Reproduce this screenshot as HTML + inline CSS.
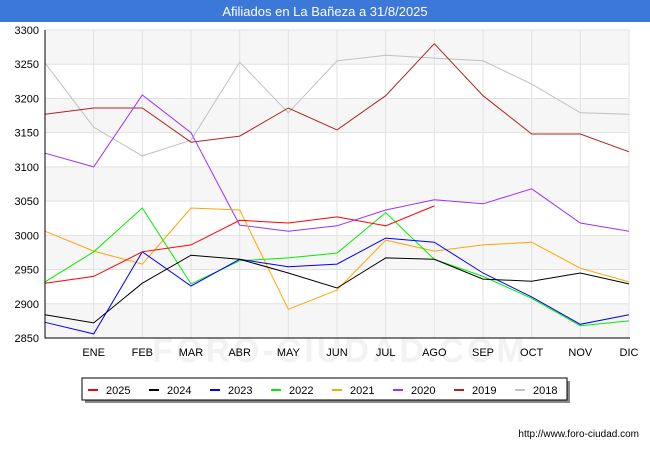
<!DOCTYPE html>
<html><head><meta charset="utf-8"><style>
body{margin:0;background:#fff;font-family:"Liberation Sans",sans-serif}
</style></head><body>
<svg id="c" width="650" height="450" xmlns="http://www.w3.org/2000/svg" font-family="Liberation Sans, sans-serif">
<rect x="0" y="0" width="650" height="22" fill="#3b78d8"/>
<text x="325" y="16" text-anchor="middle" fill="#fff" font-size="13">Afiliados en La Bañeza a 31/8/2025</text>
<g id="grid"></g><g id="series"></g><g id="axes"></g>
<rect x="85" y="381" width="485" height="22" fill="#888"/>
<rect x="82" y="378" width="485" height="22" fill="#fff" stroke="#000" stroke-width="1"/>
<g id="legend"></g>
<text x="639" y="437" text-anchor="end" font-size="10" fill="#000">http://www.foro-ciudad.com</text>
</svg>
<script>
const months=["","ENE","FEB","MAR","ABR","MAY","JUN","JUL","AGO","SEP","OCT","NOV","DIC"];
const yTicks=[2850,2900,2950,3000,3050,3100,3150,3200,3250,3300];
const seriesNames=["2025","2024","2023","2022","2021","2020","2019","2018"];
const seriesColors=["#ff0000","#000000","#0000ff","#00ee00","#ffa500","#9b30ff","#b22222","#c0c0c0"];
const s2025=[2930,2940,2976,2986,3022,3018,3027,3014,3043];
const s2024=[2884,2872,2930,2971,2965,2945,2923,2967,2965,2936,2933,2945,2929];
const s2023=[2873,2856,2976,2926,2965,2954,2958,2996,2990,2945,2910,2870,2884];
const s2022=[2932,2976,3040,2929,2963,2967,2974,3033,2965,2940,2908,2868,2875];
const s2021=[3006,2977,2958,3040,3037,2892,2920,2993,2977,2986,2990,2952,2932];
const s2020=[3120,3100,3205,3150,3015,3006,3014,3037,3052,3046,3068,3018,3006];
const s2019=[3177,3186,3186,3136,3145,3186,3154,3204,3280,3204,3148,3148,3122];
const s2018=[3252,3158,3116,3139,3253,3179,3255,3263,3259,3255,3221,3179,3177];
const allSeries=[s2025,s2024,s2023,s2022,s2021,s2020,s2019,s2018];
const NS="http://www.w3.org/2000/svg";
const L=45,R=629,T=30,B=338,ymin=2850,ymax=3300;
const X=i=>L+i*(R-L)/12;
const Y=v=>B-(v-ymin)/(ymax-ymin)*(B-T);
function mk(p,t,a){const e=document.createElementNS(NS,t);for(const k in a)e.setAttribute(k,a[k]);p.appendChild(e);return e;}
const grid=document.getElementById('grid'),axes=document.getElementById('axes'),ser=document.getElementById('series'),leg=document.getElementById('legend');
for(let i=0;i<yTicks.length-1;i++){
  if((yTicks.length-2-i)%2===0){
    const r=mk(grid,'rect',{x:L,y:Y(yTicks[i+1]),width:R-L,height:Y(yTicks[i])-Y(yTicks[i+1]),fill:'#f6f6f6'});
    
    
  }
}
yTicks.forEach(v=>{
  const l=mk(grid,'line',{x1:L,x2:R,y1:Y(v),y2:Y(v),stroke:'#e2e2e2','stroke-width':1});
  
  
  const t=mk(axes,'text',{x:L-6,y:Y(v)+4,'text-anchor':'end','font-size':11,fill:'#000'});
  t.textContent=v;
  
  
});
months.forEach((m,i)=>{
  if(i>0){const g=mk(grid,'line',{x1:X(i),x2:X(i),y1:T,y2:B,stroke:'#e2e2e2','stroke-width':1});
  
  }
  const t=mk(axes,'text',{x:X(i),y:B+18,'text-anchor':'middle','font-size':11,fill:'#000'});
  t.textContent=m;
  
  
});
const wm=mk(axes,'text',{x:340,y:362,'text-anchor':'middle','font-size':34,'font-weight':'bold',fill:'#000','fill-opacity':0.05,'letter-spacing':3});
wm.textContent='FORO-CIUDAD.COM';


const ax=mk(axes,'path',{d:`M${L},${T}V${B}H${R+1}`,fill:'none',stroke:'#000','stroke-width':1});


for(let s=allSeries.length-1;s>=0;s--){
  const d=allSeries[s].map((v,i)=>(i?'L':'M')+X(i).toFixed(1)+','+Y(v).toFixed(1)).join('');
  const p=mk(ser,'path',{d:d,fill:'none',stroke:seriesColors[s],'stroke-width':1});
  
  
}
seriesNames.forEach((n,i)=>{
  const x0=88+i*61;
  const g=mk(leg,'g',{});
  
  
  mk(g,'line',{x1:x0,x2:x0+10,y1:390,y2:390,stroke:seriesColors[i],'stroke-width':2});
  const t=mk(g,'text',{x:x0+18,y:394,'font-size':11,fill:'#000'});
  t.textContent=n;
});
</script>
</body></html>
